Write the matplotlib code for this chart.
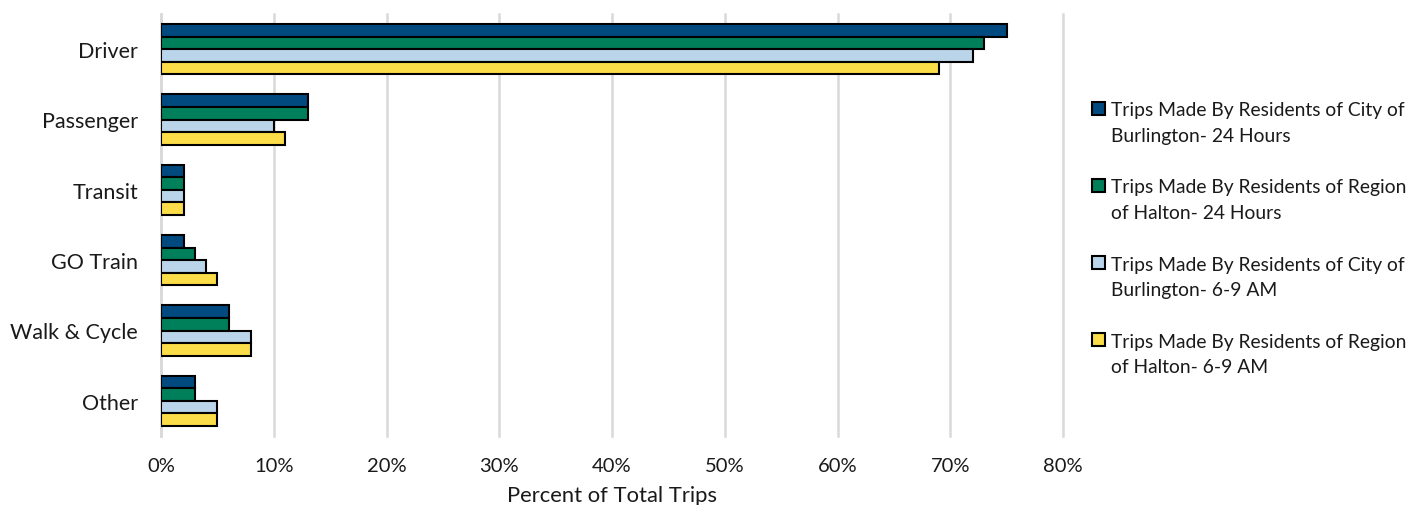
import numpy as np
import matplotlib
matplotlib.use('Agg')
import matplotlib.pyplot as plt
from matplotlib.patches import Patch
from matplotlib.ticker import PercentFormatter

plt.rcParams['font.family'] = ['Lato', 'DejaVu Sans']

categories = ['Driver', 'Passenger', 'Transit', 'GO Train', 'Walk & Cycle', 'Other']
series_labels = [
    ['Trips Made By Residents of City of', 'Burlington- 24 Hours'],
    ['Trips Made By Residents of Region', 'of Halton- 24 Hours'],
    ['Trips Made By Residents of City of', 'Burlington- 6-9 AM'],
    ['Trips Made By Residents of Region', 'of Halton- 6-9 AM'],
]
burlington_24h = [75, 13, 2, 2, 6, 3]
halton_24h = [73, 13, 2, 3, 6, 3]
burlington_am = [72, 10, 2, 4, 8, 5]
halton_am = [69, 11, 2, 5, 8, 5]
colors = ['#004A80', '#00805A', '#BAD5EA', '#FADD48']

series = [burlington_24h, halton_24h, burlington_am, halton_am]
text_col = '#1a1a1a'

fig = plt.figure(figsize=(14.26, 5.06), dpi=100)
ax = fig.add_axes([161 / 1426, 1 - 437 / 506, (1063 - 161) / 1426, (437 - 15) / 506])

y = np.arange(len(categories))
bar_h = 0.178
for i, (vals, c) in enumerate(zip(series, colors)):
    ax.barh(y + (i - 1.5) * bar_h, vals, height=bar_h, color=c,
            edgecolor='black', linewidth=1.5, zorder=3)

ax.set_ylim(len(categories) - 0.5, -0.5)
ax.set_xlim(0, 80)
ax.set_xticks(np.arange(0, 81, 10))
ax.xaxis.set_major_formatter(PercentFormatter(decimals=0))
ax.set_yticks(y)
ax.set_yticklabels(categories)
ax.tick_params(axis='x', length=0, labelsize=14.5, colors=text_col, pad=15)
ax.tick_params(axis='y', length=0, labelsize=15.5, colors=text_col, pad=16.5)
ax.grid(axis='x', color='#D9D9D9', linewidth=1.8, zorder=0)
for gl in ax.get_xgridlines():
    gl.set_clip_on(False)
for s in ['top', 'right', 'bottom']:
    ax.spines[s].set_visible(False)
ax.spines['left'].set_color('#D9D9D9')
ax.spines['left'].set_linewidth(1.8)
ax.set_xlabel('Percent of Total Trips', fontsize=15.8, color=text_col, labelpad=8)

# legend: marker on the first line of each two-line label, blank row between entries
handles, labels = [], []
blank = Patch(facecolor='none', edgecolor='none')
for k, (lines, c) in enumerate(zip(series_labels, colors)):
    handles.append(Patch(facecolor=c, edgecolor='black', linewidth=1.5))
    labels.append(lines[0])
    handles.append(blank)
    labels.append(lines[1])
    if k < len(series_labels) - 1:
        handles.append(blank)
        labels.append('')

leg = fig.legend(handles, labels, loc='center left', bbox_to_anchor=(1075 / 1426, 0.527),
                 frameon=False, fontsize=13.9, handlelength=0.65, handleheight=0.65,
                 handletextpad=0.3, labelspacing=0.45)
for t in leg.get_texts():
    t.set_color(text_col)

fig.savefig('out.png', dpi=100)
